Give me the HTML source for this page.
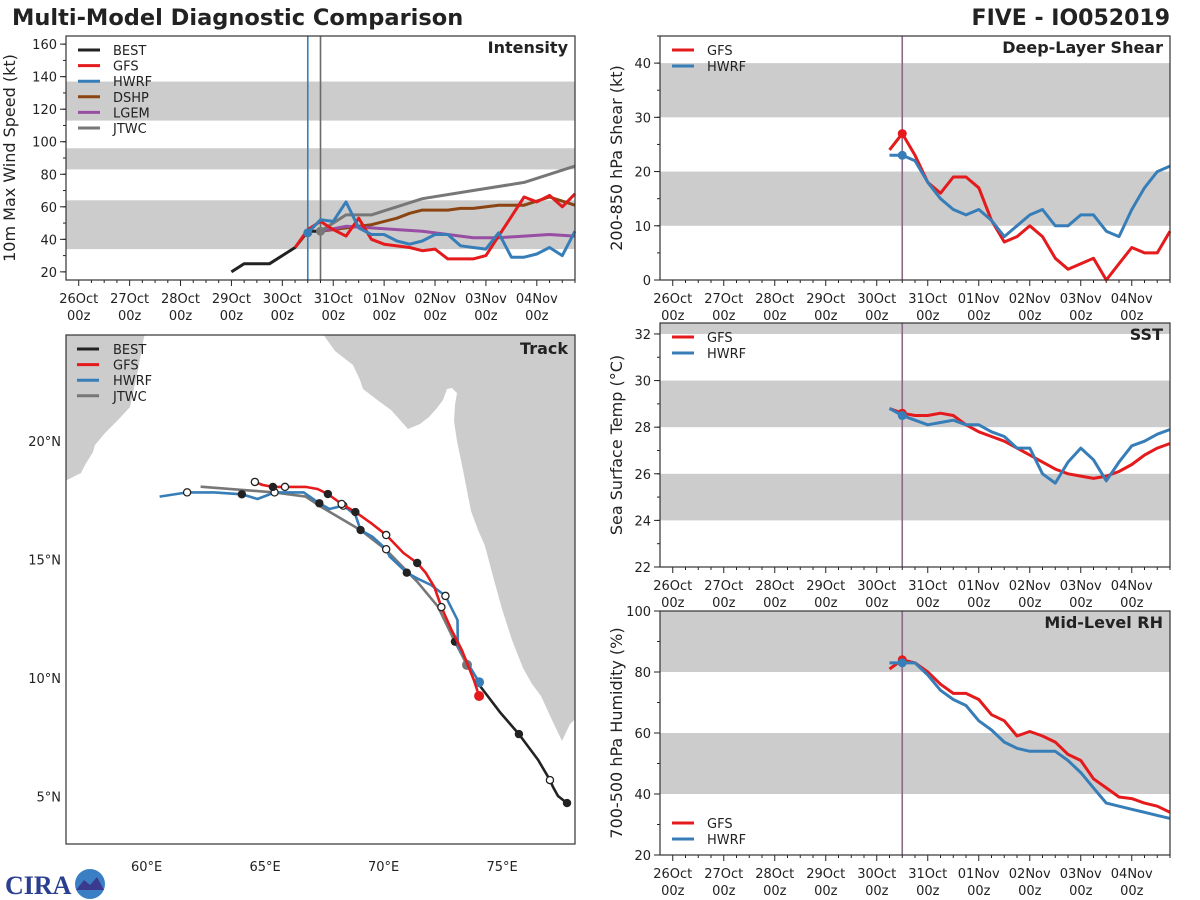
<!DOCTYPE html>
<html><head><meta charset="utf-8">
<style>
html,body{margin:0;padding:0;background:#fff;}
svg{display:block;font-family:"DejaVu Sans","Liberation Sans",sans-serif;}
</style></head>
<body>
<svg id="chart" width="1200" height="900" viewBox="0 0 1200 900" xmlns="http://www.w3.org/2000/svg">
<text x="12" y="25" font-size="22.5" font-weight="bold" fill="#222">Multi-Model Diagnostic Comparison</text>
<text x="1170" y="25" font-size="22" font-weight="bold" fill="#222" text-anchor="end">FIVE - IO052019</text>
<g>
<text x="5" y="894" font-size="26" font-weight="bold" fill="#2a3f8f" font-family="Liberation Serif,serif">CIRA</text>
<circle cx="90" cy="884" r="15" fill="#3a7fc4"/>
<path d="M76 890 L84 880 L90 885 L97 877 L104 890 Z" fill="#3a3a8f"/>
</g>
</svg>
<script>
// ---------- DATA ----------
const intenBestH = [72,78,84,90,96,102,108,114];
const intenBestV = [20,25,25,25,30,35,45,45];
const intenGfsH = [102,108,114,120,126,132,138,144,156,162,168,174,186,192,198,204,210,216,222,228,234];
const intenGfsV = [35,46,51,46,42,53,40,37,35,33,34,28,28,30,42,54,66,63,67,60,68];
const intenHwrfH = [108,114,120,126,132,138,144,150,156,162,168,174,180,186,192,198,204,210,216,222,228,234];
const intenHwrfV = [44,52,51,63,47,43,43,39,37,39,43,43,36,35,34,44,29,29,31,35,30,45];
const intenDshpH = [114,126,138,150,156,162,174,180,186,198,210,222,234];
const intenDshpV = [45,47,49,53,56,58,58,59,59,61,61,66,61];
const intenLgemH = [114,126,138,150,162,174,186,198,210,222,234];
const intenLgemV = [45,48,47,46,45,43,41,41,42,43,42];
const intenJtwcH = [114,126,138,150,162,186,210,234];
const intenJtwcV = [45,55,55,60,65,70,75,85];

const fcH = [102,108,114,120,126,132,138,144,150,156,162,168,174,180,186,192,198,204,210,216,222,228,234];
const shearGfs  = [24,27,23,18,16,19,19,17,11,7,8,10,8,4,2,3,4,0,3,6,5,5,9];
const shearHwrf = [23,23,22,18,15,13,12,13,11,8,10,12,13,10,10,12,12,9,8,13,17,20,21];
const sstGfs  = [28.8,28.6,28.5,28.5,28.6,28.5,28.1,27.8,27.6,27.4,27.1,26.8,26.5,26.2,26.0,25.9,25.8,25.9,26.1,26.4,26.8,27.1,27.3];
const sstHwrf = [28.8,28.5,28.3,28.1,28.2,28.3,28.1,28.1,27.8,27.6,27.1,27.1,26.0,25.6,26.5,27.1,26.6,25.7,26.5,27.2,27.4,27.7,27.9];
const rhGfs  = [81,84,83,80,76,73,73,71,66,64,59,60.5,59,57,53,51,45,42,39,38.5,37,36,34];
const rhHwrf = [83,83,83,79,74,71,69,64,61,57,55,54,54,54,51,47,42,37,36,35,34,33,32];

const dayLabels = ["26Oct","27Oct","28Oct","29Oct","30Oct","31Oct","01Nov","02Nov","03Nov","04Nov"];
const intenTicks = [20,40,60,80,100,120,140,160];
const shearTicks = [0,10,20,30,40];
const sstTicks = [22,24,26,28,30,32];
const rhTicks = [20,40,60,80,100];
const lonTicks = [60,65,70,75];
const latTicks = [5,10,15,20];

const trackBestLon = [77.74,77.36,77.15,77.02,76.52,75.71,74.91,74.07,73.81];
const trackBestLat = [4.72,5.02,5.40,5.69,6.54,7.63,8.56,9.66,9.91];
const trackGfsLon = [74.03,73.81,73.30,72.87,72.44,72.14,71.78,71.42,70.84,70.11,69.46,68.81,68.23,67.65,67.21,66.71,65.84,65.33,64.90,64.57];
const trackGfsLat = [9.24,9.91,11.18,12.02,12.99,13.84,14.43,14.85,15.27,16.03,16.54,17.00,17.34,17.76,17.97,18.06,18.06,18.06,18.14,18.27];
const trackHwrfLon = [74.03,73.59,73.13,73.12,72.61,72.00,71.42,70.98,70.26,70.11,69.53,69.03,68.81,68.30,67.72,67.29,66.63,65.40,64.68,64.02,62.87,61.71,60.55];
const trackHwrfLat = [9.82,10.55,11.39,12.44,13.46,13.92,14.20,14.44,15.12,15.43,15.96,16.24,16.88,17.27,17.13,17.37,17.83,17.83,17.55,17.75,17.83,17.83,17.65];
const trackJtwcLon = [73.52,73.01,72.29,71.42,70.11,69.03,67.36,66.71,65.40,62.28];
const trackJtwcLat = [10.55,11.53,13.01,14.06,15.40,16.24,17.22,17.65,17.83,18.07];

const C = {BEST:"#222222",GFS:"#e41a1c",HWRF:"#377eb8",DSHP:"#8b4513",LGEM:"#984ea3",JTWC:"#777777"};
const svg = document.getElementById('chart');
const NS = "http://www.w3.org/2000/svg";
function mk(tag, attrs, parent){ const e=document.createElementNS(NS,tag); for(const k in attrs) e.setAttribute(k,attrs[k]); (parent||svg).appendChild(e); return e; }
function txt(x,y,s,attrs,parent){ const e=mk('text',Object.assign({x:x,y:y,'font-size':13,fill:'#222'},attrs||{}),parent); e.textContent=s; return e; }

function panel(p){
  const g = mk('g',{});
  
  
  const X = h => p.x0 + (h - (-6)) / 240 * (p.x1 - p.x0);
  const Y = v => p.y1 - (v - p.vmin) / (p.vmax - p.vmin) * (p.y1 - p.y0);
  p.bands.forEach(b=>{
    const r = mk('rect',{x:p.x0,y:Y(Math.min(b[1],p.vmax)),width:p.x1-p.x0,height:Y(b[0])-Y(Math.min(b[1],p.vmax)),fill:'#cccccc'},g);
    
    
  });
  for(let h=0; h<=234; h+=6){
    const major = h%24===0;
    mk('line',{x1:X(h),x2:X(h),y1:p.y1,y2:p.y1+(major?6:3),stroke:'#222','stroke-width':1},g);
  }
  dayLabels.forEach((d,i)=>{
    const t1 = txt(X(i*24),p.y1+23,d,{'text-anchor':'middle'},g);
    
    
    txt(X(i*24),p.y1+40,'00z',{'text-anchor':'middle'},g);
  });
  p.ticks.forEach(v=>{
    mk('line',{x1:p.x0-6,x2:p.x0,y1:Y(v),y2:Y(v),stroke:'#222'},g);
    const t = txt(p.x0-9,Y(v)+5,String(v),{'text-anchor':'end'},g);
    
    
  });
  for(let v=p.ticks[0]; v<=p.vmax; v+=p.minor){ if(v>=p.vmin) mk('line',{x1:p.x0-3,x2:p.x0,y1:Y(v),y2:Y(v),stroke:'#222'},g); }
  const yt = txt(0,0,p.ylabel,{'font-size':16,'text-anchor':'middle',transform:`translate(${p.ylx},${(p.y0+p.y1)/2}) rotate(-90)`},g);
  
  
  p.vlines.forEach(v=>{ mk('line',{x1:X(v[0]),x2:X(v[0]),y1:p.y0,y2:p.y1,stroke:v[1],'stroke-width':1.6},g); });
  p.series.forEach(s=>{
    const d = s.h.map((h,i)=>(i?'L':'M')+X(h).toFixed(1)+' '+Y(s.v[i]).toFixed(1)).join(' ');
    const pl = mk('path',{d:d,fill:'none',stroke:C[s.n],'stroke-width':3,'stroke-linejoin':'round'},g);
    
    
    if(s.dot!==undefined){ const i=s.h.indexOf(s.dot); mk('circle',{cx:X(s.h[i]),cy:Y(s.v[i]),r:4.5,fill:C[s.n]},g); }
  });
  mk('rect',{x:p.x0,y:p.y0,width:p.x1-p.x0,height:p.y1-p.y0,fill:'none',stroke:'#333','stroke-width':1.2},g);
  const tt = txt(p.x1-7,p.y0+17,p.title,{'font-size':16,'font-weight':'bold','text-anchor':'end'},g);
  
  
  p.legend.forEach((n,i)=>{
    const ly = p.ly + i*p.lsp;
    mk('line',{x1:p.x0+12,x2:p.x0+34,y1:ly,y2:ly,stroke:C[n],'stroke-width':3},g);
    const lt = txt(p.x0+47,ly+5,n,{},g);
    
    
  });
}

panel({name:'intensity',x0:66,x1:575,y0:36,y1:280,vmin:15,vmax:165,ticks:intenTicks,minor:10,
  bands:[[34,64],[83,96],[113,137]],ylabel:'10m Max Wind Speed (kt)',ylx:15,title:'Intensity',
  vlines:[[108,C.HWRF],[114,'#6b6b6b']],
  series:[{n:'BEST',h:intenBestH,v:intenBestV},{n:'DSHP',h:intenDshpH,v:intenDshpV},{n:'LGEM',h:intenLgemH,v:intenLgemV},
    {n:'JTWC',h:intenJtwcH,v:intenJtwcV,dot:114},{n:'GFS',h:intenGfsH,v:intenGfsV},{n:'HWRF',h:intenHwrfH,v:intenHwrfV,dot:108}],
  legend:['BEST','GFS','HWRF','DSHP','LGEM','JTWC'],ly:50,lsp:15.6});
panel({name:'shear',x0:660,x1:1170,y0:36,y1:280,vmin:0,vmax:45,ticks:shearTicks,minor:5,
  bands:[[10,20],[30,40]],ylabel:'200-850 hPa Shear (kt)',ylx:622,title:'Deep-Layer Shear',
  vlines:[[108,'#8a6a8a']],series:[{n:'GFS',h:fcH,v:shearGfs,dot:108},{n:'HWRF',h:fcH,v:shearHwrf,dot:108}],
  legend:['GFS','HWRF'],ly:50,lsp:16});
panel({name:'sst',x0:660,x1:1170,y0:323,y1:567,vmin:22,vmax:32.47,ticks:sstTicks,minor:1,
  bands:[[24,26],[28,30],[32,34]],ylabel:'Sea Surface Temp (°C)',ylx:622,title:'SST',
  vlines:[[108,'#8a6a8a']],series:[{n:'GFS',h:fcH,v:sstGfs,dot:108},{n:'HWRF',h:fcH,v:sstHwrf,dot:108}],
  legend:['GFS','HWRF'],ly:337,lsp:16});
panel({name:'rh',x0:660,x1:1170,y0:611,y1:855,vmin:20,vmax:100,ticks:rhTicks,minor:10,
  bands:[[40,60],[80,100]],ylabel:'700-500 hPa Humidity (%)',ylx:622,title:'Mid-Level RH',
  vlines:[[108,'#8a6a8a']],series:[{n:'GFS',h:fcH,v:rhGfs,dot:108},{n:'HWRF',h:fcH,v:rhHwrf,dot:108}],
  legend:['GFS','HWRF'],ly:823,lsp:16});

(function(){
  const x0=66,x1=575,y0=335,y1=844;
  const LX = lon => x0 + (lon-56.6)*23.7;
  const LY = lat => y0 + (24.47-lat)*23.7;
  const g = mk('g',{});
  
  
  const cp = mk('clipPath',{id:'mapclip'},g);
  mk('rect',{x:x0,y:y0,width:x1-x0,height:y1-y0},cp);
  const land = mk('g',{'clip-path':'url(#mapclip)'},g);
  const oman = mk('polygon',{points:'60,330 148,330 144,337 138,370 130,407 118,420 105,433 95,445 93,452 85,465 81,473 67,480 60,480',fill:'#cccccc'},land);
  
  
  const india = mk('polygon',{points:'322,330 325,337 335,351 353,365 360,380 363,389 380,402 391,410 408,429 420,424 429,417 437,408 443,400 447,389 452,388 457,393 455,405 454,421 457,441 463,470 471,511 478,530 485,546 494,580 502,609 512,640 523,668 532,684 541,696 552,720 562,741 570,724 580,715 580,330',fill:'#cccccc'},land);
  
  
  function track(n,lon,lat,filled,open,startDot){
    const d = lon.map((v,i)=>(i?'L':'M')+LX(v).toFixed(1)+' '+LY(lat[i]).toFixed(1)).join(' ');
    const p = mk('path',{d:d,fill:'none',stroke:C[n],'stroke-width':2.6,'stroke-linejoin':'round'},g);
    
    
    filled.forEach(i=>mk('circle',{cx:LX(lon[i]),cy:LY(lat[i]),r:4.2,fill:'#222'},g));
    open.forEach(i=>mk('circle',{cx:LX(lon[i]),cy:LY(lat[i]),r:3.6,fill:'#fff',stroke:'#222','stroke-width':1.3},g));
    if(startDot) mk('circle',{cx:LX(lon[0]),cy:LY(lat[0]),r:5,fill:C[n]},g);
  }
  track('BEST',trackBestLon,trackBestLat,[0,5],[3],false);
  track('JTWC',trackJtwcLon,trackJtwcLat,[1],[],true);
  track('HWRF',trackHwrfLon,trackHwrfLat,[7,11,15,19],[4,9,13,17,21],true);
  track('GFS',trackGfsLon,trackGfsLat,[7,11,13,17],[4,9,12,16,19],true);
  mk('rect',{x:x0,y:y0,width:x1-x0,height:y1-y0,fill:'none',stroke:'#333','stroke-width':1.2},g);
  const tt = txt(x1-7,y0+19,'Track',{'font-size':16,'font-weight':'bold','text-anchor':'end'},g);
  
  
  ['BEST','GFS','HWRF','JTWC'].forEach((n,i)=>{
    const ly=349+i*15.6;
    mk('line',{x1:77,x2:99,y1:ly,y2:ly,stroke:C[n],'stroke-width':3},g);
    const lt = txt(113,ly+5,n,{},g);
    
    
  });
  lonTicks.forEach(v=>{
    const t = txt(LX(v),871,v+'°E',{'text-anchor':'middle'},g);
    
    
  });
  latTicks.forEach(v=>{
    const t = txt(61,LY(v)+5,v+'°N',{'text-anchor':'end'},g);
    
    
  });
})();
</script>
</body></html>
